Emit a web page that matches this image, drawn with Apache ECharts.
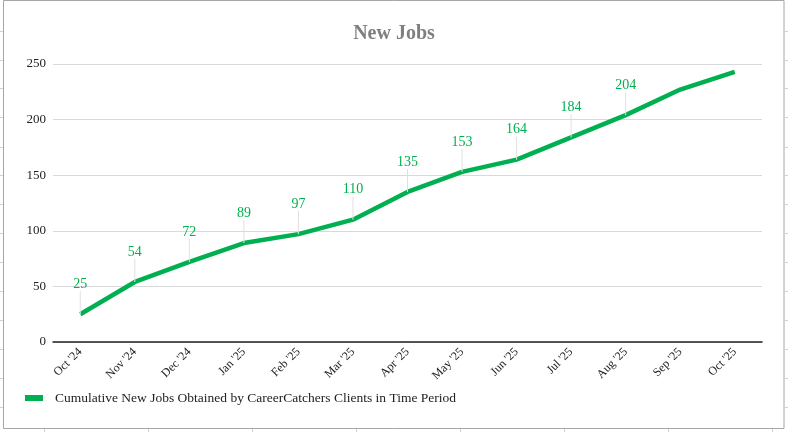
<!DOCTYPE html>
<html>
<head>
<meta charset="utf-8">
<script src="https://cdn.jsdelivr.net/npm/echarts@6/dist/echarts.min.js"></script>
<style>html,body{margin:0;padding:0;background:#fff}#c{width:788px;height:432px}</style>
</head>
<body>
<div id="c"></div>
<script>
const categories = ["Oct '24","Nov '24","Dec '24","Jan '25","Feb '25","Mar '25","Apr '25","May '25","Jun '25","Jul '25","Aug '25","Sep '25","Oct '25"];
const cumulativeJobs = [25, 54, 72, 89, 97, 110, 135, 153, 164, 184, 204, 227, 243];
const labelledPoints = [true, true, true, true, true, true, true, true, true, true, true, false, false];
const yTicks = [0, 50, 100, 150, 200, 250];
const seriesName = 'Cumulative New Jobs Obtained by CareerCatchers Clients in Time Period';
const titleText = 'New Jobs';

const chart = echarts.init(document.getElementById('c'), null, {renderer: 'canvas'});
const FONT = '"Liberation Serif", "DejaVu Serif", serif';

// decorative spreadsheet cell-grid ticks around the chart frame
const deco = [];
const leftTicksY = [31, 60, 88, 117, 147, 175, 204, 233, 262, 291, 320, 349, 378, 407];
leftTicksY.forEach(y => {
  deco.push({type:'line', shape:{x1:0,y1:y+0.5,x2:3,y2:y+0.5}, style:{stroke:'#d0d0d0',lineWidth:1}, silent:true});
  deco.push({type:'line', shape:{x1:785,y1:y+0.5,x2:788,y2:y+0.5}, style:{stroke:'#d0d0d0',lineWidth:1}, silent:true});
});
[44, 148, 252, 356, 460, 564, 668, 772].forEach(x => {
  deco.push({type:'line', shape:{x1:x+0.5,y1:429,x2:x+0.5,y2:432}, style:{stroke:'#d0d0d0',lineWidth:1}, silent:true});
});
deco.push({type:'rect', shape:{x:3.5,y:0.5,width:780.5,height:428}, style:{fill:null, stroke:'#a6a6a6', lineWidth:1}, silent:true, z:-1});

const seriesData = cumulativeJobs.map((v, i) => labelledPoints[i] ? v : {value: v, label: {show: false}, labelLine: {show: false}});

chart.setOption({
  animation: false,
  backgroundColor: '#fff',
  title: {
    text: titleText,
    left: 'center',
    top: 19,
    textStyle: {fontFamily: FONT, fontSize: 20, fontWeight: 'bold', color: '#7f7f7f'}
  },
  legend: {
    left: 20,
    top: 386,
    icon: 'rect',
    itemWidth: 18,
    itemHeight: 6,
    textStyle: {fontFamily: FONT, fontSize: 13.5, color: '#222', padding: [0, 0, 0, 7]},
    data: [seriesName]
  },
  grid: {left: 53, right: 26, top: 64, bottom: 90, containLabel: false},
  xAxis: {
    type: 'category',
    data: categories,
    boundaryGap: true,
    axisLine: {lineStyle: {color: '#222', width: 1.5}},
    axisTick: {show: false},
    axisLabel: {rotate: 45, fontFamily: FONT, fontSize: 12, color: '#222', margin: 8, interval: 0}
  },
  yAxis: {
    type: 'value',
    min: yTicks[0],
    max: yTicks[yTicks.length - 1],
    interval: 50,
    axisLine: {show: false},
    axisTick: {show: false},
    axisLabel: {fontFamily: FONT, fontSize: 13, color: '#222', margin: 7},
    splitLine: {lineStyle: {color: '#d9d9d9', width: 1}}
  },
  series: [{
    name: seriesName,
    type: 'line',
    data: seriesData,
    symbol: 'circle',
    showSymbol: true,
    symbolSize: 0.01,
    lineStyle: {color: '#00b050', width: 4.5},
    itemStyle: {color: '#00b050'},
    label: {
      show: true,
      position: 'top',
      distance: 4,
      fontFamily: FONT,
      fontSize: 14,
      color: '#00b050'
    },
    labelLayout: {dy: -19},
    labelLine: {show: true, lineStyle: {color: '#e0e0e0', width: 1}}
  }],
  graphic: deco
});
</script>
</body>
</html>
